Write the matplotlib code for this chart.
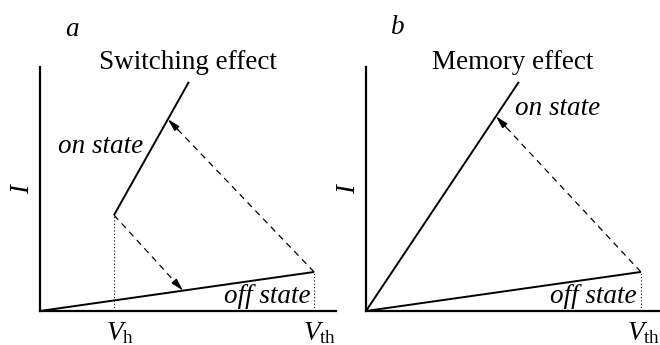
import matplotlib
matplotlib.use("Agg")
import matplotlib.pyplot as plt

plt.rcParams["font.family"] = "Liberation Serif"
plt.rcParams["mathtext.fontset"] = "custom"
plt.rcParams["mathtext.rm"] = "Liberation Serif"
plt.rcParams["mathtext.it"] = "Liberation Serif:italic"

# I-V sketches, normalised units (V and I in 0..1)
titles = ["Switching effect", "Memory effect"]
panel_letters = ["a", "b"]

# panel a: switching
v_th_a = 0.926
v_h_a = 0.25
off_a = [[0.0, v_th_a], [0.0, 0.16]]
on_a = [[v_h_a, 0.503], [0.393, 0.939]]
jump_up_a = [[v_th_a, 0.16], [0.432, 0.786]]
jump_down_a = [[v_h_a, 0.393], [0.483, 0.0835]]

# panel b: memory
v_th_b = 0.935
off_b = [[0.0, v_th_b], [0.0, 0.16]]
on_b = [[0.0, 0.52], [0.0, 0.939]]
jump_up_b = [[v_th_b, 0.16], [0.442, 0.798]]

FS = 19.5

fig = plt.figure(figsize=(6.6, 3.45), dpi=100)
W, H = 660, 345
ax_a = fig.add_axes([40 / W, 34 / H, 296 / W, 244 / H])
ax_b = fig.add_axes([366 / W, 34 / H, 294 / W, 244 / H])

for ax in (ax_a, ax_b):
    ax.set_xlim(0, 1)
    ax.set_ylim(0, 1)
    ax.set_xticks([])
    ax.set_yticks([])
    for s in ("top", "right"):
        ax.spines[s].set_visible(False)
    for s in ("left", "bottom"):
        ax.spines[s].set_linewidth(1.6)
    ax.set_facecolor("none")


def dashed_arrow(ax, seg):
    (x0, y0), (x1, y1) = seg
    ax.plot([x0, x1], [y0, y1], color="k", lw=0.9, ls=(0, (5, 4)),
            dash_capstyle="butt", clip_on=False)
    # short solid segment carrying the head
    t = 0.93
    ax.annotate("", xy=(x1, y1), xytext=(x0 + t * (x1 - x0), y0 + t * (y1 - y0)),
                arrowprops=dict(arrowstyle="-|>,head_length=0.75,head_width=0.2",
                                color="k", lw=0.9, shrinkA=0, shrinkB=0))


def state_line(ax, xy):
    ax.plot(xy[0], xy[1], color="k", lw=1.4, solid_capstyle="butt", clip_on=False)


def vline(ax, x, y):
    ax.plot([x, x], [0, y], color="k", lw=0.8, ls=(0, (1, 2)), clip_on=False)


def v_label(ax, x, sub):
    ax.text(x, -0.119, r"$V_\mathrm{%s}$" % sub, fontsize=FS,
            ha="center", va="baseline")


# panel a
state_line(ax_a, off_a)
state_line(ax_a, on_a)
vline(ax_a, v_h_a, on_a[1][0])
vline(ax_a, v_th_a, off_a[1][1])
dashed_arrow(ax_a, jump_up_a)
dashed_arrow(ax_a, jump_down_a)
ax_a.text(0.206, 0.676, "on state", style="italic", fontsize=FS,
          ha="center", va="center")
ax_a.text(0.913, 0.061, "off state", style="italic", fontsize=FS,
          ha="right", va="center")
v_label(ax_a, v_h_a + 0.02, "h")
v_label(ax_a, v_th_a + 0.02, "th")

# panel b
state_line(ax_b, off_b)
state_line(ax_b, on_b)
vline(ax_b, v_th_b, off_b[1][1])
dashed_arrow(ax_b, jump_up_b)
ax_b.text(0.65, 0.828, "on state", style="italic", fontsize=FS,
          ha="center", va="center")
ax_b.text(0.92, 0.061, "off state", style="italic", fontsize=FS,
          ha="right", va="center")
v_label(ax_b, v_th_b + 0.01, "th")

for ax, title, letter, lx, ly in zip((ax_a, ax_b), titles, panel_letters,
                                     (0.108, 0.109), (1.152, 1.16)):
    ax.text(0.5, 1.02, title, fontsize=FS, ha="center", va="center")
    ax.text(lx, ly, letter, style="italic", fontsize=FS, ha="center", va="center")
    ax.text(-0.06, 0.5, "I", style="italic", fontsize=FS, rotation=90,
            ha="center", va="center")

fig.savefig("out.png", dpi=100, facecolor="white")
